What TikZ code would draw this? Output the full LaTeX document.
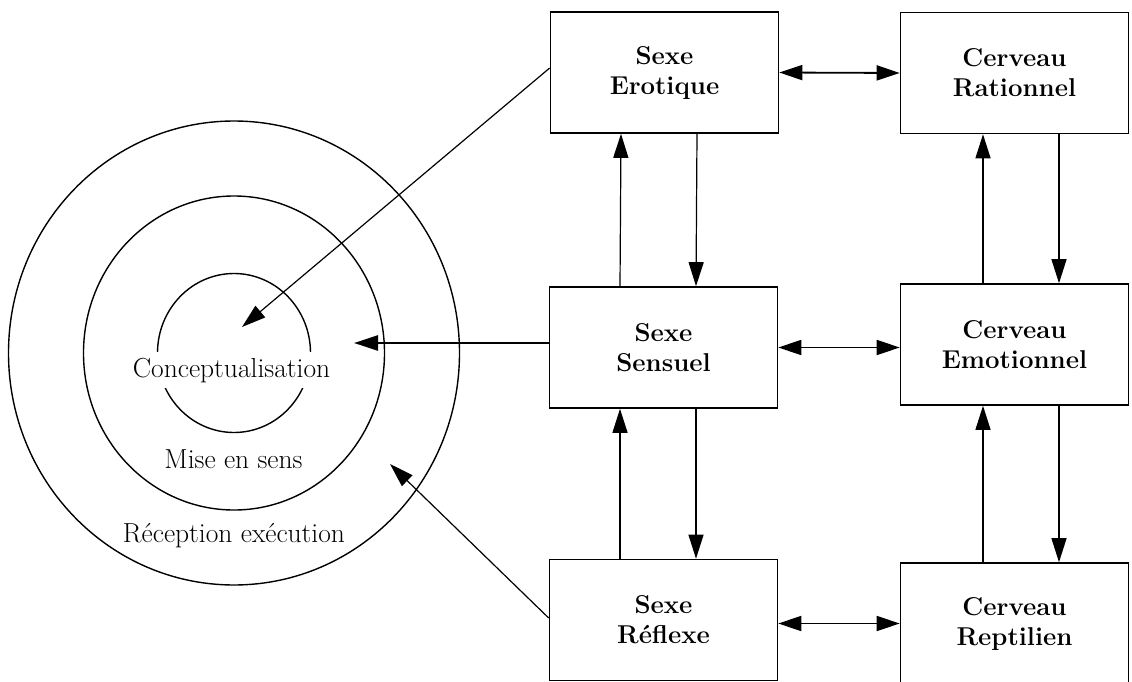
\documentclass[tikz,border=0pt]{standalone}
\usepackage{tikz}
\usetikzlibrary{arrows.meta}

\begin{document}
\begin{tikzpicture}[x=1pt, y=-1pt, font=\fontsize{27.5}{33}\selectfont,
  box/.style={draw, line width=1.6pt, minimum width=228pt, minimum height=121pt, inner sep=0pt, align=center, font=\fontsize{25.8}{30}\selectfont\bfseries},
  arr/.style={-{Triangle[length=24pt,width=15pt]}, line width=1.2pt},
  darr/.style={{Triangle[length=23pt,width=15pt]}-{Triangle[length=23pt,width=15pt]}, line width=1.8pt},
  ring/.style={line width=1.4pt}]
  \useasboundingbox (0,0) rectangle (1132,682);
  \coordinate (ctr) at (234,353);
  \draw[ring] (ctr) ellipse [x radius=225.5, y radius=232];
  \draw[ring] (ctr) ellipse [x radius=150.5, y radius=157];
  \draw[ring] (ctr) ellipse [x radius=76.5, y radius=79.5];
  \node[anchor=base, fill=white, inner sep=6pt] (concept) at (231.5,377) {Conceptualisation};
  \node[anchor=base] (sens-lbl) at (233.5,468) {Mise en sens};
  \node[anchor=base] (recep) at (234,542) {Réception exécution};

  \node[box] (erot) at (664.5,72.5) {Sexe\\Erotique};
  \node[box] (rat)  at (1014.5,73) {Cerveau\\Rationnel};
  \node[box] (sens) at (663.5,347.5) {Sexe\\Sensuel};
  \node[box] (emot) at (1014.5,344.5) {Cerveau\\Emotionnel};
  \node[box] (refl) at (663.5,620) {Sexe\\Réflexe};
  \node[box] (rept) at (1014.5,623.5) {Cerveau\\Reptilien};

  \draw[darr] (erot.east) -- (rat.west);
  \draw[darr] (sens.east) -- (sens.east -| emot.west);
  \draw[darr] (rept.west -| refl.east) -- (rept.west);

  \draw[arr] ([xshift=-43.5pt]sens.north) -- ([xshift=-43.5pt]erot.south);
  \draw[arr] ([xshift=32.5pt]erot.south) -- ([xshift=32.5pt]sens.north);
  \draw[arr] ([xshift=-43.5pt]refl.north) -- ([xshift=-43.5pt]sens.south);
  \draw[arr] ([xshift=32.5pt]sens.south) -- ([xshift=32.5pt]refl.north);
  \draw[arr] ([xshift=-31.5pt]emot.north) -- ([xshift=-31.5pt]rat.south);
  \draw[arr] ([xshift=44.5pt]rat.south) -- ([xshift=44.5pt]emot.north);
  \draw[arr] ([xshift=-31.5pt]rept.north) -- ([xshift=-31.5pt]emot.south);
  \draw[arr] ([xshift=44.5pt]emot.south) -- ([xshift=44.5pt]rept.north);

  \coordinate (tipA) at (242,327);
  \coordinate (tipB) at (354,343);
  \coordinate (tipC) at (390,464);
  \draw[arr] ([yshift=4.5pt]erot.west) -- (tipA);
  \draw[arr, line width=2.6pt] ([yshift=4.5pt]sens.west) -- (tipB);
  \draw[arr] ([yshift=2pt]refl.west) -- (tipC);
\end{tikzpicture}
\end{document}
